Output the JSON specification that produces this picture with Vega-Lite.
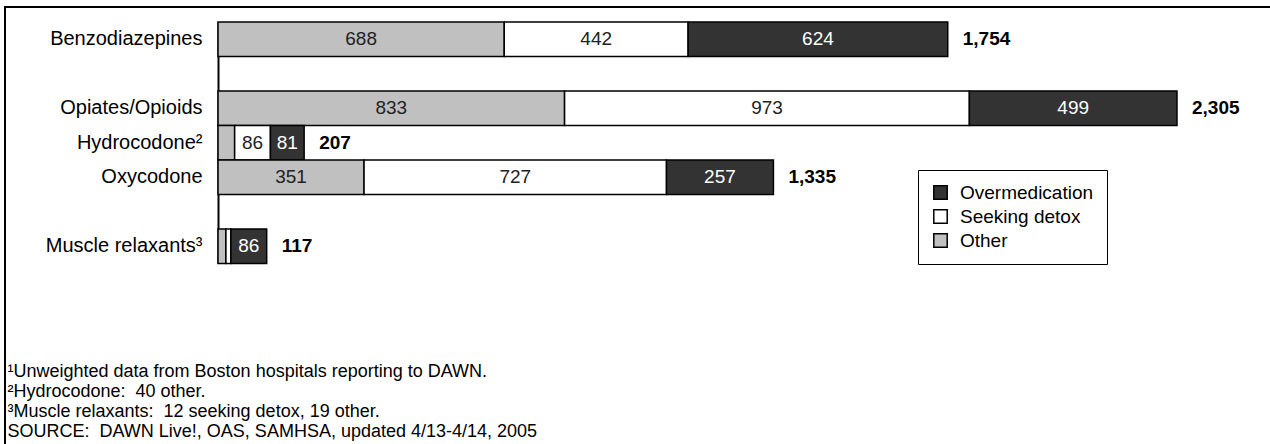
{
  "$schema": "https://vega.github.io/schema/vega-lite/v6.json",
  "width": 1275,
  "height": 444,
  "autosize": {"type": "none"},
  "padding": {"left": 5, "top": 7, "right": 0, "bottom": 0},
  "background": "white",
  "config": {
    "view": {"stroke": "black", "strokeWidth": 2},
    "font": "Liberation Sans",
    "text": {"font": "Liberation Sans"}
  },
  "datasets": {
    "bars": [
      {"category": "Benzodiazepines", "type": "Other", "value": 688},
      {"category": "Benzodiazepines", "type": "Seeking detox", "value": 442},
      {"category": "Benzodiazepines", "type": "Overmedication", "value": 624},
      {"category": "Opiates/Opioids", "type": "Other", "value": 833},
      {"category": "Opiates/Opioids", "type": "Seeking detox", "value": 973},
      {"category": "Opiates/Opioids", "type": "Overmedication", "value": 499},
      {"category": "Hydrocodone²", "type": "Other", "value": 40},
      {"category": "Hydrocodone²", "type": "Seeking detox", "value": 86},
      {"category": "Hydrocodone²", "type": "Overmedication", "value": 81},
      {"category": "Oxycodone", "type": "Other", "value": 351},
      {"category": "Oxycodone", "type": "Seeking detox", "value": 727},
      {"category": "Oxycodone", "type": "Overmedication", "value": 257},
      {"category": "Muscle relaxants³", "type": "Other", "value": 19},
      {"category": "Muscle relaxants³", "type": "Seeking detox", "value": 12},
      {"category": "Muscle relaxants³", "type": "Overmedication", "value": 86}
    ],
    "notes": [
      {"line": 1, "text": "¹Unweighted data from Boston hospitals reporting to DAWN."},
      {"line": 2, "text": "²Hydrocodone:\u00a0 40 other."},
      {"line": 3, "text": "³Muscle relaxants:\u00a0 12 seeking detox, 19 other."},
      {"line": 4, "text": "SOURCE:\u00a0 DAWN Live!, OAS, SAMHSA, updated 4/13-4/14, 2005"}
    ]
  },
  "layer": [
    {
      "data": {"name": "bars"},
      "transform": [
        {"calculate": "indexof(['Other','Seeking detox','Overmedication'], datum.type)", "as": "rank"},
        {"stack": "value", "groupby": ["category"], "sort": [{"field": "rank"}], "as": ["x0", "x1"]}
      ],
      "mark": {"type": "bar", "stroke": "black", "strokeWidth": 1.5},
      "encoding": {
        "y": {
          "field": "category", "type": "nominal",
          "scale": {"domain": ["Benzodiazepines", " ", "Opiates/Opioids", "Hydrocodone²", "Oxycodone", "  ", "Muscle relaxants³"], "range": [15, 256.5], "paddingInner": 0, "paddingOuter": 0},
          "axis": {"title": null, "offset": -213, "ticks": false, "domainColor": "black", "domainWidth": 2, "labelFontSize": 20, "labelColor": "black", "labelPadding": 16, "labelFont": "Liberation Sans", "labelLimit": 300}
        },
        "x": {"field": "x0", "type": "quantitative", "scale": {"domain": [-512, 2552.6], "nice": false, "zero": false}, "axis": null},
        "x2": {"field": "x1"},
        "color": {
          "field": "type", "type": "nominal",
          "scale": {"domain": ["Other", "Seeking detox", "Overmedication"], "range": ["#c0c0c0", "#ffffff", "#333333"]},
          "legend": {"title": null, "orient": "none", "legendX": 913, "legendY": 163, "values": ["Overmedication", "Seeking detox", "Other"], "symbolType": "square", "symbolSize": 180, "symbolStrokeColor": "black", "symbolStrokeWidth": 1.5, "labelFontSize": 19, "labelFont": "Liberation Sans", "labelColor": "black", "strokeColor": "black", "fillColor": "white", "padding": 13, "rowPadding": 3, "labelOffset": 10}
        }
      }
    },
    {
      "data": {"name": "bars"},
      "transform": [
        {"calculate": "indexof(['Other','Seeking detox','Overmedication'], datum.type)", "as": "rank"},
        {"stack": "value", "groupby": ["category"], "sort": [{"field": "rank"}], "as": ["x0", "x1"]},
        {"filter": "datum.value > 50"},
        {"calculate": "(datum.x0 + datum.x1) / 2", "as": "mid"}
      ],
      "mark": {"type": "text", "fontSize": 19, "baseline": "middle", "align": "center"},
      "encoding": {
        "y": {"field": "category", "type": "nominal", "scale": {"domain": ["Benzodiazepines", " ", "Opiates/Opioids", "Hydrocodone²", "Oxycodone", "  ", "Muscle relaxants³"], "range": [15, 256.5], "paddingInner": 0, "paddingOuter": 0}, "axis": null},
        "x": {"field": "mid", "type": "quantitative"},
        "text": {"field": "value", "type": "quantitative", "format": ","},
        "color": {"condition": {"test": "datum.type === 'Overmedication'", "value": "#ffffff"}, "value": "#222222"}
      }
    },
    {
      "data": {"name": "bars"},
      "transform": [
        {"aggregate": [{"op": "sum", "field": "value", "as": "total"}], "groupby": ["category"]}
      ],
      "mark": {"type": "text", "fontSize": 19, "fontWeight": "bold", "baseline": "middle", "align": "left", "dx": 15, "color": "black"},
      "encoding": {
        "y": {"field": "category", "type": "nominal", "scale": {"domain": ["Benzodiazepines", " ", "Opiates/Opioids", "Hydrocodone²", "Oxycodone", "  ", "Muscle relaxants³"], "range": [15, 256.5], "paddingInner": 0, "paddingOuter": 0}, "axis": null},
        "x": {"field": "total", "type": "quantitative"},
        "text": {"field": "total", "type": "quantitative", "format": ","}
      }
    },
    {
      "data": {"name": "notes"},
      "mark": {"type": "text", "fontSize": 18, "baseline": "middle", "align": "left", "color": "black"},
      "encoding": {
        "y": {"field": "line", "type": "ordinal", "scale": {"type": "point", "range": [365, 425], "padding": 0}, "axis": null},
        "x": {"datum": -506},
        "text": {"field": "text"}
      }
    }
  ],
  "resolve": {"scale": {"y": "independent"}}
}
